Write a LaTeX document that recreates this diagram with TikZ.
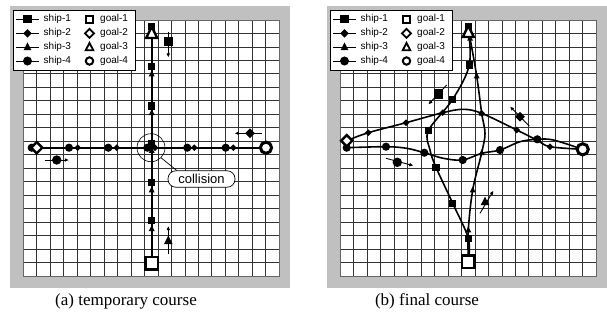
\documentclass[tikz,border=0pt]{standalone}
\usepackage{fontspec}
\setmainfont{Liberation Serif}
\setsansfont{Liberation Sans}
\usetikzlibrary{arrows.meta}
\definecolor{panelgray}{RGB}{192,192,192}
\tikzset{
  msq/.pic={\fill (-3.7,-3.7) rectangle (3.7,3.7);},
  mdia/.pic={\fill (0,-3.9) -- (3.9,0) -- (0,3.9) -- (-3.9,0) -- cycle;},
  mtri/.pic={\fill (0,-4.1) -- (3.5,2.8) -- (-3.5,2.8) -- cycle;},
  mcirc/.pic={\fill (0,0) circle (4.1);},
  gsq/.pic={\draw[line width=2.8pt,fill=white] (-6.3,-6.3) rectangle (6.3,6.3);},
  gtri/.pic={\draw[line width=2.4pt,fill=white,line join=miter] (0,-6.4) -- (5.5,5) -- (-5.5,5) -- cycle;},
  gdia/.pic={\draw[line width=2.4pt,fill=white] (0,-5.6) -- (5.6,0) -- (0,5.6) -- (-5.6,0) -- cycle;},
  gcirc/.pic={\draw[line width=3pt,fill=white] (0,0) circle (5.6);},
  lgsq/.pic={\draw[line width=1.9pt,fill=white] (-3.4,-3.4) rectangle (3.4,3.4);},
  lgtri/.pic={\draw[line width=1.8pt,fill=white,line join=miter] (0,-4.2) -- (3.8,3.3) -- (-3.8,3.3) -- cycle;},
  lgdia/.pic={\draw[line width=1.8pt,fill=white] (0,-4.5) -- (4.5,0) -- (0,4.5) -- (-4.5,0) -- cycle;},
  lgcirc/.pic={\draw[line width=2pt,fill=white] (0,0) circle (3.7);},
  legtext/.style={font=\sffamily\fontsize{10}{11}\selectfont,anchor=west,inner sep=0pt},
  gridline/.style={black!80,line width=0.85pt},
  icon/.style={line width=0.9pt,-{Latex[length=4.2pt,width=3.8pt]}},
  track/.style={line width=1.6pt,smooth,tension=0.55},
  caption/.style={font=\fontsize{17}{19}\selectfont,inner sep=0pt},
  panel/.pic={
    \fill[panelgray] (10,6) rectangle (290,288);
    \fill[white] (23.3,20) rectangle (279.3,276);
    \foreach \k in {1,...,18} {
      \draw[gridline] ({23.3+13.47*\k},20) -- ({23.3+13.47*\k},276);
      \draw[gridline] (23.3,{20+13.47*\k}) -- (279.3,{20+13.47*\k});
    }
    \draw[black!60,line width=0.6pt] (23.3,20) rectangle (279.3,276);
    \draw[line width=0.9pt,fill=white] (13.5,10) rectangle (135.5,70.7);
    \foreach \y/\m/\g/\n in {19.3/msq/lgsq/1,33.3/mdia/lgdia/2,47/mtri/lgtri/3,61/mcirc/lgcirc/4} {
      \draw[line width=0.9pt] (16,\y) -- (39,\y);
      \pic[scale=1.1] at (27.5,\y) {\m};
      \node[legtext] at (43.5,\y) {ship-\n};
      \pic at (89.5,\y) {\g};
      \node[legtext] at (100,\y) {goal-\n};
    }
  }
}
\begin{document}
\begin{tikzpicture}[x=1pt,y=-1pt]
\useasboundingbox (0,0) rectangle (607,322);
\pic at (0,0) {panel};
\pic at (317,0) {panel};

% ---------- panel (a) ----------
\draw[line width=2.4pt] (151.7,27) -- (151.7,262);
\draw[line width=2.2pt] (36.7,147.7) -- (266,147.7);
\foreach \y in {26.7,66.7,106,143.3,182.7,220.7} \pic at (151.7,\y) {msq};
\foreach \y in {74,112.7,150.5,190,228.7} \pic[scale=0.85] at (151.7,\y) {mtri};
\foreach \x in {31.7,69,108.3,147.3,187.3,225.7} \pic at (\x,147.7) {mcirc};
\foreach \x in {77.7,116.7,155,194.3,233.3} \pic[scale=0.85] at (\x,147.7) {mdia};
\pic at (151.7,263.3) {gsq};
\pic at (151.7,33) {gtri};
\pic at (36.7,147.7) {gdia};
\pic at (266,147.7) {gcirc};
% current positions (a)
\draw[icon] (168.3,31.5) -- (168.3,57.5);
\pic[scale=1.25] at (168.3,41.7) {msq};
\draw[icon] (262,133.3) -- (234.5,133.3);
\pic[scale=1.25] at (250,133.3) {mdia};
\draw[icon] (44.5,160) -- (69,160);
\pic[scale=1.15] at (56.7,160) {mcirc};
\draw[icon] (168.3,254) -- (168.3,226);
\pic[scale=1.25] at (168.3,240.7) {mtri};
% collision
\node[draw,circle,line width=0.6pt,minimum size=28pt,inner sep=0pt] (coll) at (151,147.7) {};
\node[draw,line width=0.7pt,rounded corners=8pt,minimum width=67pt,minimum height=16.5pt,inner sep=0pt,fill=white,
      font=\sffamily\fontsize{13}{14}\selectfont] (lbl) at (201.5,179) {collision};
\draw[line width=0.7pt] (coll.-45) -- ([xshift=9pt]lbl.north west);

% ---------- panel (b) ----------
% ship-2 (diamonds), right to left
\draw[track] plot coordinates {(582.7,149.3) (550,146.7) (536.7,140) (516.7,130) (481.7,113.3) (463.3,109.3) (442.7,112.7) (406,122.7) (368.3,132.7) (346.7,140.7)};
% ship-4 (circles), left to right
\draw[track] plot coordinates {(346.7,147.7) (386,146.7) (406.7,148.3) (424.3,152.7) (443.3,158.3) (462.7,160) (481.7,153.3) (500,150) (520,141.7) (537.3,139.3) (553.3,140) (582.7,149.3)};
% ship-1 (squares), top to bottom
\draw[track] plot coordinates {(468.3,26.7) (469.3,65) (452.7,99.3) (428.3,130.7) (430,150) (436,167.3) (452.7,203.3) (468.3,238.3) (468.3,261.7)};
% ship-3 (triangles), bottom to top
\draw[track] plot coordinates {(468.3,261.7) (468.3,230) (472.7,190) (481.7,152.7) (485,133.3) (481.7,113.3) (476.7,76) (470,38.3) (468.3,31.7)};
\foreach \p in {(468.3,26.7),(469.3,65),(452.7,99.3),(428.3,130.7),(436,167.3),(452.7,203.3),(468.3,238.3)} \pic at \p {msq};
\foreach \p in {(468.3,230),(472.7,190),(481.7,152.7),(481.7,113.3),(476.7,76),(470,38.3)} \pic[scale=0.85] at \p {mtri};
\foreach \p in {(550,146.7),(516.7,130),(481.7,113.3),(442.7,112.7),(406,122.7),(368.3,132.7)} \pic[scale=0.85] at \p {mdia};
\foreach \p in {(346.7,147.7),(386,146.7),(424.3,152.7),(462.7,160),(500,150),(537.3,139.3)} \pic at \p {mcirc};
\pic at (468.3,261.7) {gsq};
\pic at (468.3,32) {gtri};
\pic at (346.7,140.7) {gdia};
\pic at (582.7,149.3) {gcirc};
% current positions (b)
\draw[icon] (446.7,85) -- (428.3,104.5);
\pic[scale=1.25] at (438.3,94) {msq};
\draw[icon] (529.3,126) -- (510,106.5);
\pic[scale=1.25] at (520,116.7) {mdia};
\draw[icon] (386,158.3) -- (413.5,165.7);
\pic[scale=1.15] at (397.3,162.3) {mcirc};
\draw[icon] (480,213.3) -- (493.5,190.5);
\pic[scale=1.25] at (485,201.7) {mtri};

% captions
\node[caption] (capa) at (126,301) {(a) temporary course};
\node[caption] (capb) at (427,301) {(b) final course};
\end{tikzpicture}
\end{document}
